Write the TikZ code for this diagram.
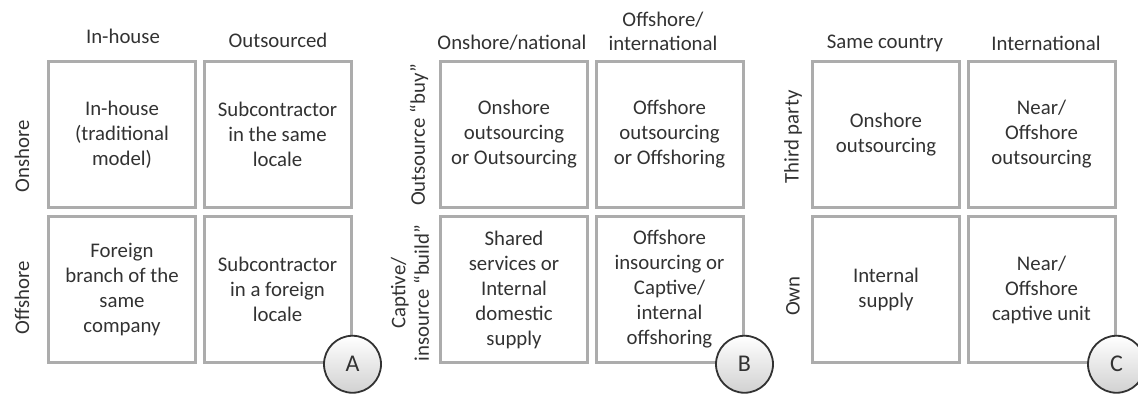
\documentclass[tikz,border=0pt]{standalone}
\usepackage{fontspec}
\setmainfont{Carlito}
\usepackage{tikz}
\usetikzlibrary{positioning}

\definecolor{boxline}{RGB}{172,172,172}
\definecolor{ink}{RGB}{50,50,50}

\begin{document}
\begin{tikzpicture}[x=1pt, y=-1pt,
  node distance=5.5pt,
  cell/.style={draw=boxline, line width=3pt, minimum width=147pt, minimum height=146.5pt,
    align=center, text=ink, font=\fontsize{20.8}{25}\selectfont},
  head/.style={text=ink, align=center, font=\fontsize{20.8}{23.5}\selectfont},
  side/.style={head, rotate=90},
  tag/.style={circle, draw=ink, line width=1.8pt, minimum size=57pt, inner sep=0pt,
    top color=white, bottom color=black!18, text=ink, font=\fontsize{24}{26}\selectfont}]
\useasboundingbox (0,0) rectangle (1138,394);

% matrix A
\node[cell] (A11) at (122,134.5) {In-house\\(traditional\\model)};
\node[cell, right=of A11] (A12) {Subcontractor\\in the same\\locale};
\node[cell, below=of A11] (A21) {Foreign\\branch of the\\same\\company};
\node[cell, right=of A21] (A22) {Subcontractor\\in a foreign\\locale};
\node[head] (hA1) at (123,36) {In-house};
\node[head] (hA2) at (278,40) {Outsourced};
\node[side] (sA1) at (22,156) {Onshore};
\node[side] (sA2) at (22,298) {Offshore};
\node[tag] (tagA) at (A22.south east) {A};

% matrix B
\node[cell] (B11) at (514,134.5) {Onshore\\outsourcing\\or Outsourcing};
\node[cell, right=of B11] (B12) {Offshore\\outsourcing\\or Offshoring};
\node[cell, below=of B11] (B21) {Shared\\services or\\Internal\\domestic\\supply};
\node[cell, right=of B21] (B22) {Offshore\\insourcing or\\Captive/\\internal\\offshoring};
\node[head] (hB1) at (512,43) {Onshore/national};
\node[head] (hB2) at (663,31.5) {Offshore/\\international};
\node[side] (sB1) at (419,135) {Outsource “buy”};
\node[side] (sB2) at (410,293) {Captive/\\insource “build”};
\node[tag] (tagB) at (B22.south east) {B};

% matrix C
\node[cell] (C11) at (886,134.5) {Onshore\\outsourcing};
\node[cell, right=of C11] (C12) {Near/\\Offshore\\outsourcing};
\node[cell, below=of C11] (C21) {Internal\\supply};
\node[cell, right=of C21] (C22) {Near/\\Offshore\\captive unit};
\node[head] (hC1) at (885,43) {Same country};
\node[head] (hC2) at (1046,43) {International};
\node[side] (sC1) at (793,137) {Third party};
\node[side] (sC2) at (793,296) {Own};
\node[tag] (tagC) at (C22.south east) {C};
\end{tikzpicture}
\end{document}
